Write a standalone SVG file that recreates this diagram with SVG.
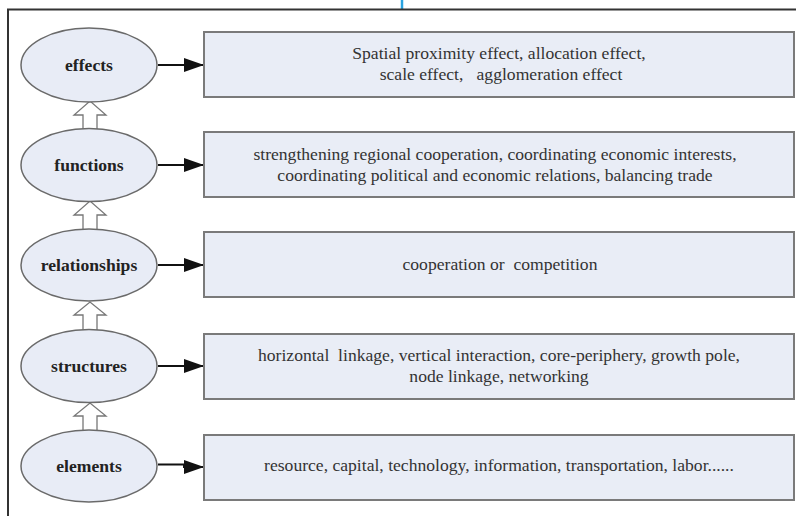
<svg xmlns="http://www.w3.org/2000/svg" width="796" height="516" viewBox="0 0 796 516">
<style>
.frame{fill:none;stroke:#333;stroke-width:2}
.ell{fill:#e8ecf6;stroke:#6a6a6a;stroke-width:1.5}
.box{fill:#e9edf6;stroke:#7a7a7a;stroke-width:2}
.lab{font-family:"Liberation Serif","Times New Roman",serif;font-weight:bold;font-size:17.6px;fill:#222;text-anchor:middle}
.txt{font-family:"Liberation Serif","Times New Roman",serif;font-size:17.6px;fill:#333;text-anchor:middle;white-space:pre}
.con{fill:none;stroke:#111;stroke-width:2}
.up{fill:#fff;stroke:#777;stroke-width:1.3}
</style>
<defs>
<marker id="ah" markerWidth="20" markerHeight="16" refX="20" refY="7" orient="auto" markerUnits="userSpaceOnUse">
<path d="M0,0 L20,7 L0,14 Z" fill="#111"/>
</marker>
</defs>
<rect width="796" height="516" fill="#fff"/>
<line x1="402" y1="0" x2="402" y2="9" stroke="#29a3e0" stroke-width="2.5"/>
<path class="frame" d="M8,530 V9.5 H800"/>

<g id="connectors">
<line class="con" x1="158" y1="65" x2="204" y2="65" marker-end="url(#ah)"/>
<line class="con" x1="158" y1="165" x2="204" y2="165" marker-end="url(#ah)"/>
<line class="con" x1="158" y1="265" x2="204" y2="265" marker-end="url(#ah)"/>
<line class="con" x1="158" y1="366" x2="204" y2="366" marker-end="url(#ah)"/>
<path class="con" d="M158,464.5 H184 V467 H204" marker-end="url(#ah)"/>
<path class="up" d="M83,130 V115 H74 L90,101 L106,115 H97 V130"/>
<path class="up" d="M83,230 V215 H74 L90,201 L106,215 H97 V230"/>
<path class="up" d="M83,331 V315 H74 L90,302 L106,315 H97 V331"/>
<path class="up" d="M83,431 V416 H74 L90,403 L106,416 H97 V431"/>
</g>

<g id="effects"><ellipse class="ell" cx="89" cy="65" rx="68" ry="37"/><text class="lab" x="89" y="71">effects</text></g>
<g id="functions"><ellipse class="ell" cx="89" cy="165" rx="68" ry="36.5"/><text class="lab" x="89" y="171">functions</text></g>
<g id="relationships"><ellipse class="ell" cx="89" cy="265" rx="68" ry="36"/><text class="lab" x="89" y="271">relationships</text></g>
<g id="structures"><ellipse class="ell" cx="89" cy="366" rx="68" ry="36.5"/><text class="lab" x="89" y="372">structures</text></g>
<g id="elements"><ellipse class="ell" cx="89" cy="466" rx="68" ry="36"/><text class="lab" x="89" y="472">elements</text></g>

<g id="effects-box"><rect class="box" x="204" y="32" width="590" height="65"/>
<text class="txt" x="499" y="59">Spatial proximity effect, allocation effect,</text>
<text class="txt" x="501" y="80">scale effect,   agglomeration effect</text></g>
<g id="functions-box"><rect class="box" x="204" y="132" width="590" height="65"/>
<text class="txt" x="495" y="160">strengthening regional cooperation, coordinating economic interests,</text>
<text class="txt" x="495" y="181">coordinating political and economic relations, balancing trade</text></g>
<g id="relationships-box"><rect class="box" x="204" y="232" width="590" height="65"/>
<text class="txt" x="500" y="270">cooperation or  competition</text></g>
<g id="structures-box"><rect class="box" x="204" y="334" width="590" height="65"/>
<text class="txt" x="499" y="361">horizontal  linkage, vertical interaction, core-periphery, growth pole,</text>
<text class="txt" x="499" y="382">node linkage, networking</text></g>
<g id="elements-box"><rect class="box" x="204" y="435" width="590" height="65"/>
<text class="txt" x="499" y="471">resource, capital, technology, information, transportation, labor......</text></g>
</svg>
